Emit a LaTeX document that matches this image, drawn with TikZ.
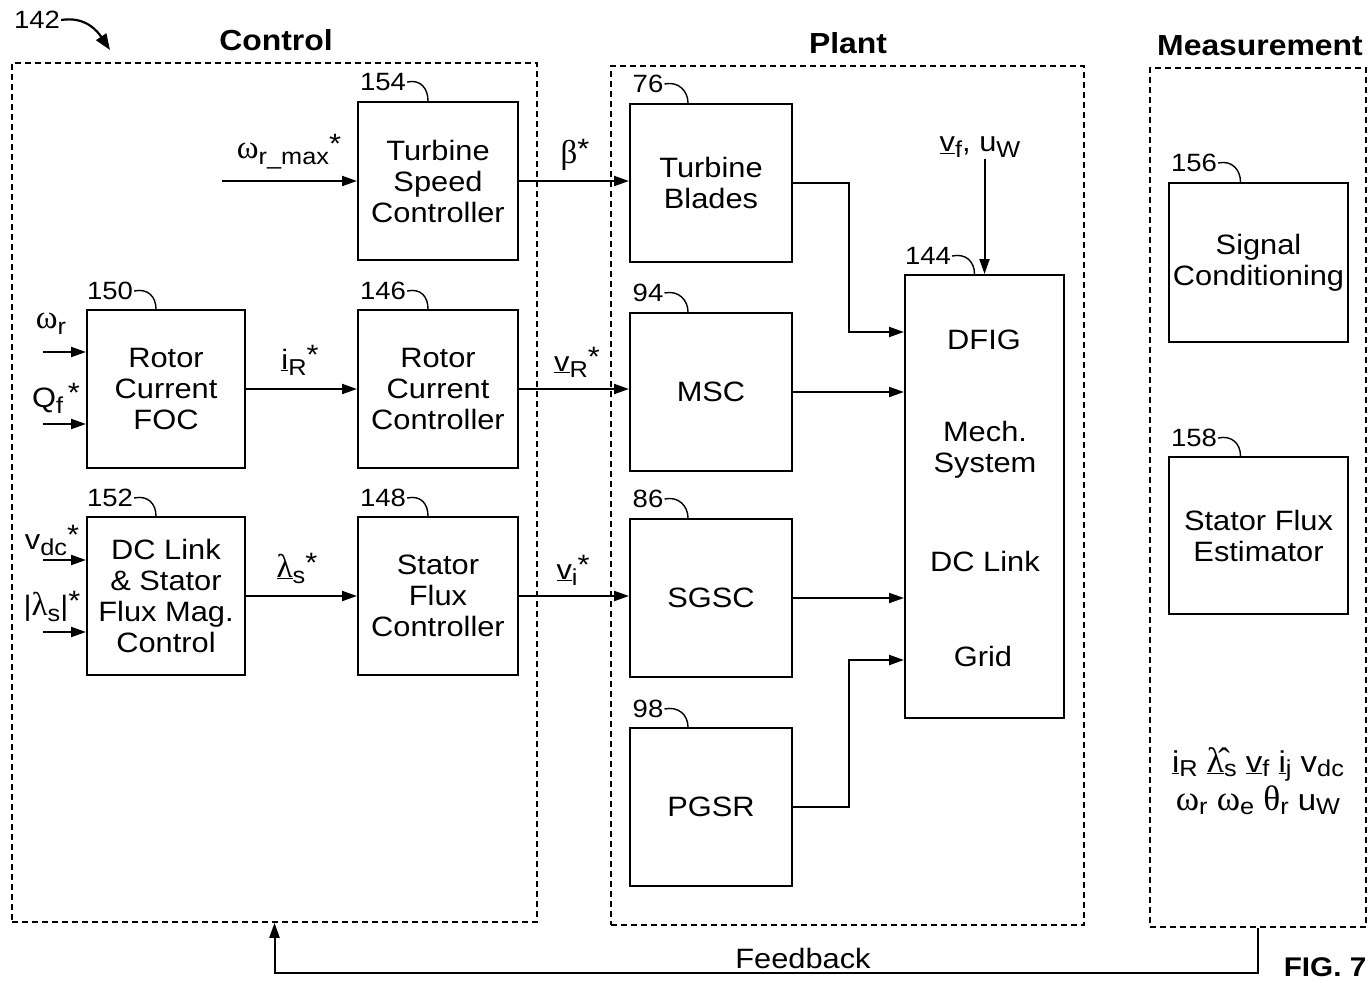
\documentclass[tikz,border=0pt]{standalone}
\usepackage{fontspec}
\setmainfont{Liberation Sans}[FakeStretch=1.1]
\newfontfamily\gr{Liberation Serif}[Scale=1.18]
\usetikzlibrary{arrows.meta}
\newcommand{\dn}[1]{\raisebox{-6pt}{\fontsize{23}{23}\selectfont #1}}
\newcommand{\dnm}[1]{\raisebox{-4pt}{\fontsize{23}{23}\selectfont #1}}
\newcommand{\st}{\raisebox{5pt}{*}}
\newcommand{\g}[1]{{\gr #1}}
\newcommand{\lhat}{{\gr λ^^^^0302}}
\begin{document}
\begin{tikzpicture}[x=1pt,y=-1pt,
  region/.style={draw, line width=1.5pt, dash pattern=on 6pt off 4pt, inner sep=0, rectangle},
  blk/.style={draw, line width=2pt, minimum width=160pt, minimum height=158pt, align=center, inner sep=0, font=\fontsize{28}{31}\selectfont},
  txt/.style={font=\fontsize{28}{31}\selectfont, align=center, inner sep=1pt},
  mtxt/.style={font=\fontsize{30}{32}\selectfont, inner sep=0},
  lbl/.style={font=\fontsize{25}{28}\selectfont, inner sep=1pt},
  ttl/.style={font=\bfseries\fontsize{29}{32}\selectfont, inner sep=0},
  arr/.style={line width=2pt, -{Triangle[length=15pt,width=10pt]}},
  hook/.style={line width=1.4pt}]
\useasboundingbox (0,0) rectangle (1372,982);

% regions
\node[region, minimum width=525pt, minimum height=859pt] (ctrl) at (274.5,492.5) {};
\node[region, minimum width=473pt, minimum height=859pt] (plant) at (847.5,495.5) {};
\node[region, minimum width=216pt, minimum height=859pt] (meas) at (1258,497.5) {};
\node[ttl] (tctrl) at (276,40) {Control};
\node[ttl] (tplant) at (848,43) {Plant};
\node[ttl] (tmeas) at (1260,46) {Measurement};

% 142
\node[lbl] (n142) at (37,20) {142};
\coordinate (c142) at (110,50);
\draw[line width=2.2pt, -{Triangle[length=16pt,width=12pt]}] (n142.east) .. controls +(25,-4) and +(-12,-18) .. (c142);

% control blocks
\node[blk] (tsc) at (438,181) {Turbine\\Speed\\Controller};
\node[blk, minimum width=158pt] (foc) at (166,389) {Rotor\\Current\\FOC};
\node[blk] (rcc) at (438,389) {Rotor\\Current\\Controller};
\node[blk, minimum width=158pt] (dcl) at (166,596) {DC Link\\\&~Stator\\Flux Mag.\\Control};
\node[blk] (sfc) at (438,596) {Stator\\Flux\\Controller};

% plant blocks
\node[blk, minimum width=162pt] (tb) at (711,183) {Turbine\\Blades};
\node[blk, minimum width=162pt] (msc) at (711,392) {MSC};
\node[blk, minimum width=162pt] (sgsc) at (711,598) {SGSC};
\node[blk, minimum width=162pt] (pgsr) at (711,807) {PGSR};
\node[blk, minimum width=159pt, minimum height=443pt] (dfig) at (984.5,496.5) {};
\node[txt] (tdfig) at (984,340) {DFIG};
\node[txt] (tmech) at (985,450) {Mech.\\System};
\node[txt] (tdcl) at (985,561) {DC Link};
\node[txt] (tgrid) at (983,656) {Grid};

% measurement blocks
\node[blk, minimum width=179pt, minimum height=159pt] (sc) at (1258.5,262.5) {Signal\\Conditioning};
\node[blk, minimum width=179pt, minimum height=157pt] (sfe) at (1258.5,535.5) {Stator Flux\\Estimator};
\node[mtxt, anchor=base] (mv1) at (1258,772) {\underline{i}\dnm{R} \underline{\lhat}\dnm{s} \underline{v}\dnm{f} \underline{i}\dnm{j} v\dnm{dc}};
\node[mtxt, anchor=base] (mv2) at (1258,810) {\g{ω}\dnm{r} \g{ω}\dnm{e} \g{θ}\dnm{r} u\dnm{W}};

% reference labels and hooks
\node[lbl] (l154) at (383,82) {154};
\draw[hook] (l154.east) .. controls +(14,-3) and +(0,-12) .. ([xshift=-10pt]tsc.north);
\node[lbl] (l150) at (110,291) {150};
\draw[hook] (l150.east) .. controls +(14,-3) and +(0,-12) .. ([xshift=-10pt]foc.north);
\node[lbl] (l146) at (383,291) {146};
\draw[hook] (l146.east) .. controls +(14,-3) and +(0,-12) .. ([xshift=-10pt]rcc.north);
\node[lbl] (l152) at (110,498) {152};
\draw[hook] (l152.east) .. controls +(14,-3) and +(0,-12) .. ([xshift=-10pt]dcl.north);
\node[lbl] (l148) at (383,498) {148};
\draw[hook] (l148.east) .. controls +(14,-3) and +(0,-12) .. ([xshift=-10pt]sfc.north);
\node[lbl] (l76) at (648,84) {76};
\draw[hook] (l76.east) .. controls +(14,-3) and +(0,-12) .. ([xshift=-23pt]tb.north);
\node[lbl] (l94) at (648,293) {94};
\draw[hook] (l94.east) .. controls +(14,-3) and +(0,-12) .. ([xshift=-23pt]msc.north);
\node[lbl] (l86) at (648,499) {86};
\draw[hook] (l86.east) .. controls +(14,-3) and +(0,-12) .. ([xshift=-23pt]sgsc.north);
\node[lbl] (l98) at (648,709) {98};
\draw[hook] (l98.east) .. controls +(14,-3) and +(0,-12) .. ([xshift=-23pt]pgsr.north);
\node[lbl] (l144) at (928,256) {144};
\draw[hook] (l144.east) .. controls +(14,-3) and +(0,-12) .. ([xshift=-10pt]dfig.north);
\node[lbl] (l156) at (1194,163) {156};
\draw[hook] (l156.east) .. controls +(14,-3) and +(0,-12) .. ([xshift=-18pt]sc.north);
\node[lbl] (l158) at (1194,438) {158};
\draw[hook] (l158.east) .. controls +(14,-3) and +(0,-12) .. ([xshift=-18pt]sfe.north);

% external inputs
\coordinate (iwmax) at (222,181);
\coordinate (iwr) at (43,352);
\coordinate (iqf) at (43,424);
\coordinate (ivdc) at (43,560);
\coordinate (ilam) at (43,632);
\node[txt] (twmax) at (289,152) {\g{ω}\dn{r\_max}\st};
\node[txt] (twr) at (51,324) {\g{ω}\dn{r}};
\node[txt] (tqf) at (56,398) {Q\dn{f}\,\st};
\node[txt] (tvdc) at (52,540) {v\dn{dc}\st};
\node[txt] (tlam) at (52,606) {|\g{λ}\dn{s}|\st};
\draw[arr] (iwmax) -- (iwmax -| tsc.west);
\draw[arr] (iwr) -- (iwr -| foc.west);
\draw[arr] (iqf) -- (iqf -| foc.west);
\draw[arr] (ivdc) -- (ivdc -| dcl.west);
\draw[arr] (ilam) -- (ilam -| dcl.west);

% internal connectors
\draw[arr] (tsc.east) -- (tsc.east -| tb.west);
\node[txt] (tbeta) at (575,155) {\g{β}\st};
\draw[arr] (foc.east) -- (rcc.west);
\node[txt] (tir) at (300,360) {\underline{i}\dn{R}\st};
\draw[arr] (rcc.east) -- (rcc.east -| msc.west);
\node[txt] (tvr) at (577,362) {\underline{v}\dn{R}\st};
\draw[arr] (dcl.east) -- (sfc.west);
\node[txt] (tls) at (297,568) {\underline{\g{λ}}\dn{s}\st};
\draw[arr] (sfc.east) -- (sfc.east -| sgsc.west);
\node[txt] (tvi) at (573,570) {\underline{v}\dn{i}\st};

\draw[arr] (tb.east) -- ++(56,0) |- ([yshift=164.5pt]dfig.west);
\draw[arr] (msc.east) -- (msc.east -| dfig.west);
\draw[arr] (sgsc.east) -- (sgsc.east -| dfig.west);
\draw[arr] (pgsr.east) -- ++(56,0) |- ([yshift=-163.5pt]dfig.west);

\node[txt] (tvf) at (980,147) {\underline{v}\dn{f}, u\dn{W}};
\draw[arr] (tvf.south -| dfig.north) -- (dfig.north);

% feedback
\draw[arr] (meas.south) -- ++(0,45) -| (ctrl.south);
\node[txt] (tfb) at (803,958) {Feedback};
\node[font=\bfseries\fontsize{27}{30}\selectfont, inner sep=0] (fig) at (1325,967) {FIG. 7};
\end{tikzpicture}
\end{document}
